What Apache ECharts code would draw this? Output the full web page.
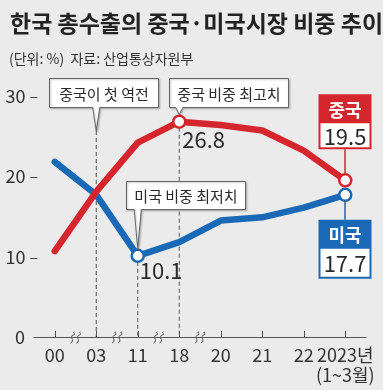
<!DOCTYPE html>
<html><head><meta charset="utf-8">
<script src="https://cdn.jsdelivr.net/npm/echarts@6/dist/echarts.min.js"></script>
<style>html,body{margin:0;padding:0;background:#ebebeb;}#c{width:383px;height:390px;}</style>
</head><body><div id="c"></div>
<script>
const titleText = '한국 총수출의 중국·미국시장 비중 추이';
const subtitleText = '(단위: %)  자료: 산업통상자원부';
const categories = ['00', '03', '11', '18', '20', '21', '22', '2023년\n(1~3월)'];
const seriesNames = ['중국', '미국'];
const chinaShare = [10.7, 18.1, 24.2, 26.8, 26.4, 25.7, 23.2, 19.5];
const usShare = [21.8, 17.7, 10.1, 11.8, 14.5, 14.9, 16.1, 17.7];
const yTicks = [0, 10, 20, 30];
const chinaMarked = [3, 7];
const usMarked = [2, 7];
const calloutTexts = ['중국이 첫 역전', '중국 비중 최고치', '미국 비중 최저치'];
const calloutIndex = [1, 3, 2];
const breakAfter = [0, 1, 2, 3];

const RED = '#d5262d', BLUE = '#1a69b6', INK = '#2a2a2a', GRID = '#555';
const NUM = "'Liberation Sans Narrow', 'Noto Sans CJK KR', sans-serif";
const KR = "'Noto Sans CJK KR', sans-serif";

function mk(vals, marked) {
  return vals.map((v, i) => marked.includes(i) ? { value: v } : { value: v, symbol: 'none' });
}

const chart = echarts.init(document.getElementById('c'));

const calloutCfg = [
  { w: 109, h: 29, dx: -47, mode: 'top', tipLen: 24 },
  { w: 119, h: 29, dx: -10, mode: 'top', label: true, ldx: 3, ldy: 18 },
  { w: 119, h: 28, dx: -12, mode: 'above', gap: 47, label: true, ldx: 2, ldy: 15 }
];

function renderDash(params, api) {
  const i = params.dataIndex;
  const c = calloutCfg[i];
  const p = api.coord([api.value(0), api.value(1)]);
  const y0 = api.coord([0, 0])[1];
  const y30 = api.coord([0, 30])[1];
  let yStart;
  if (c.mode === 'top' && c.tipLen) yStart = y30 - 18 + c.h + c.tipLen;
  else yStart = p[1] + 6;
  return { type: 'line', shape: { x1: p[0], y1: yStart, x2: p[0], y2: y0 },
    style: { stroke: GRID, lineWidth: 1, lineDash: [4, 3] } };
}

function renderCallout(params, api) {
  const i = params.dataIndex;
  const c = calloutCfg[i];
  const p = api.coord([api.value(0), api.value(1)]);
  const y30 = api.coord([0, 30])[1];
  let top, tipY;
  if (c.mode === 'top') {
    top = y30 - 18;
    tipY = c.tipLen ? top + c.h + c.tipLen : p[1] - 7;
  } else {
    top = p[1] - c.gap - c.h;
    tipY = p[1] - 7;
  }
  const L = Math.round(p[0] + c.dx) + 0.5, R = L + c.w, T = Math.round(top) + 0.5, B = T + c.h;
  const px = p[0];
  const children = [{
    type: 'polygon',
    shape: { points: [[L, T], [R, T], [R, B], [px + 3.5, B], [px, tipY], [px - 3.5, B], [L, B]] },
    style: { fill: '#fff', stroke: '#666', lineWidth: 1, shadowBlur: 2, shadowColor: 'rgba(0,0,0,0.25)', shadowOffsetX: 1, shadowOffsetY: 1 }
  }, {
    type: 'text',
    style: { text: calloutTexts[i], x: (L + R) / 2, y: (T + B) / 2 + 1, align: 'center', verticalAlign: 'middle',
      font: '15px ' + KR, fill: INK }
  }];
  if (c.label) {
    children.push({
      type: 'text',
      style: { text: String(api.value(1)), x: p[0] + c.ldx, y: p[1] + c.ldy, align: 'left', verticalAlign: 'middle',
        font: '22px ' + NUM, fill: INK }
    });
  }
  return { type: 'group', children };
}

function renderEnd(params, api) {
  const i = params.dataIndex;
  const p = api.coord([api.value(0), api.value(1)]);
  const x = Math.round(p[0]);
  const W = 53, L = x - 26.5;
  const col = i === 0 ? RED : BLUE;
  const name = seriesNames[i];
  const val = String(api.value(1));
  const ch = [];
  let T, H, B;
  if (i === 0) {
    B = p[1] - 31; T = B - 55; H = T + 29;
    ch.push({ type: 'line', shape: { x1: x, y1: B, x2: x, y2: p[1] - 6 }, style: { stroke: col, lineWidth: 1.5 } });
  } else {
    T = p[1] + 25; H = T + 29; B = T + 59;
    ch.push({ type: 'line', shape: { x1: x, y1: p[1] + 6, x2: x, y2: T }, style: { stroke: col, lineWidth: 1.5 } });
  }
  ch.push({ type: 'rect', shape: { x: L, y: T, width: W, height: B - T }, style: { fill: col } });
  ch.push({ type: 'rect', shape: { x: L + 2, y: H, width: W - 4, height: B - H - 2 }, style: { fill: '#fff' } });
  ch.push({ type: 'text', style: { text: name, x: x, y: (T + H) / 2 + 1, align: 'center', verticalAlign: 'middle', font: 'bold 18px ' + KR, fill: '#fff' } });
  ch.push({ type: 'text', style: { text: val, x: x, y: (H + B) / 2, align: 'center', verticalAlign: 'middle', font: '22px ' + NUM, fill: INK } });
  return { type: 'group', children: ch };
}

function renderBreak(params, api) {
  const p = api.coord([api.value(0), 0]);
  const half = api.size([1, 0])[0] / 2;
  const cx = p[0] + half, y = p[1];
  const s = (x0) => 'M' + (x0 - 2) + ' ' + (y + 6) + ' C' + (x0 + 3) + ' ' + (y + 4) + ' ' + (x0 - 4) + ' ' + (y - 1) + ' ' + (x0 + 1) + ' ' + (y - 2) +
    ' C' + (x0 + 4) + ' ' + (y - 3) + ' ' + (x0 - 1) + ' ' + (y - 5) + ' ' + (x0 + 2) + ' ' + (y - 5);
  return { type: 'group', children: [
    { type: 'path', shape: { pathData: s(cx - 3) }, style: { fill: 'none', stroke: GRID, lineWidth: 1 } },
    { type: 'path', shape: { pathData: s(cx + 3) }, style: { fill: 'none', stroke: GRID, lineWidth: 1 } }
  ] };
}

const lineCommon = {
  type: 'line', symbol: 'circle', symbolSize: 12, showAllSymbol: true, z: 2,
  label: { show: false }
};

chart.setOption({
  backgroundColor: '#ebebeb',
  animation: false,
  title: [
    { text: titleText, left: 5, top: 7, textStyle: { fontFamily: KR, fontSize: 23, fontWeight: 'bold', color: '#222' } },
    { text: subtitleText, left: 4, top: 47, textStyle: { fontFamily: KR, fontSize: 14, fontWeight: 'normal', color: '#333' } }
  ],
  grid: { left: 34, right: 17, top: 96, bottom: 53 },
  xAxis: {
    type: 'category', data: categories, boundaryGap: true,
    axisLine: { lineStyle: { color: GRID, width: 1 } },
    axisTick: { show: true, inside: true, length: 6, alignWithLabel: true, lineStyle: { color: GRID } },
    axisLabel: { color: '#333', fontFamily: NUM, fontSize: 18, margin: 8, lineHeight: 20, interval: 0 }
  },
  yAxis: {
    type: 'value', min: yTicks[0], max: yTicks[yTicks.length - 1], interval: 10,
    axisLine: { show: false }, axisTick: { show: false }, splitLine: { show: false },
    axisLabel: {
      margin: -4,
      formatter: v => v === 0 ? '{z|0}' : '{n|' + v + '}{d|–}',
      rich: {
        n: { color: '#333', fontFamily: NUM, fontSize: 18 },
        z: { color: '#333', fontFamily: NUM, fontSize: 18, padding: [0, 13, 0, 0] },
        d: { color: '#444', fontFamily: NUM, fontSize: 16, padding: [0, 0, 0, 4] }
      }
    }
  },
  series: [
    { type: 'custom', z: 1, silent: true, renderItem: renderDash,
      data: calloutIndex.map((ci, k) => [ci, k === 2 ? usShare[ci] : chinaShare[ci]]) },
    { type: 'custom', z: 1, silent: true, renderItem: renderBreak, data: breakAfter.map(i => [i, 0]) },
    Object.assign({}, lineCommon, {
      name: seriesNames[1], data: mk(usShare, usMarked),
      lineStyle: { color: BLUE, width: 6.5, cap: 'round', join: 'round' },
      itemStyle: { color: '#fff', borderColor: BLUE, borderWidth: 2.5 }
    }),
    Object.assign({}, lineCommon, {
      name: seriesNames[0], data: mk(chinaShare, chinaMarked),
      lineStyle: { color: RED, width: 6.5, cap: 'round', join: 'round' },
      itemStyle: { color: '#fff', borderColor: RED, borderWidth: 2.5 }
    }),
    { type: 'custom', z: 5, silent: true, renderItem: renderCallout,
      data: calloutIndex.map((ci, k) => [ci, k === 2 ? usShare[ci] : chinaShare[ci]]) },
    { type: 'custom', z: 5, silent: true, renderItem: renderEnd,
      data: [[7, chinaShare[7]], [7, usShare[7]]] }
  ]
});
</script></body></html>
